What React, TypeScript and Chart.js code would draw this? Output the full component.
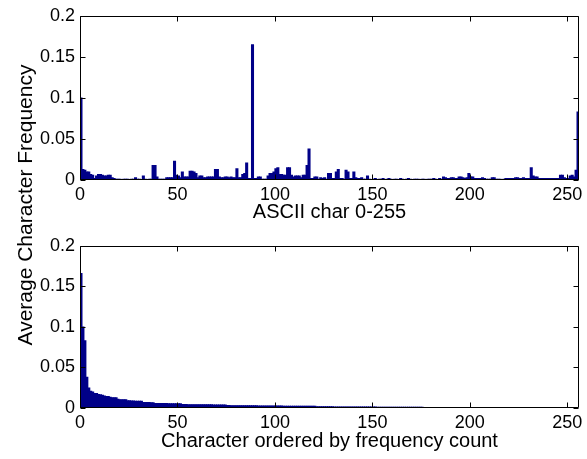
import { useEffect, useRef } from "react";
import { Chart, registerables } from "chart.js";

Chart.register(...registerables);

// ---- data ----
const xTicks = [0, 50, 100, 150, 200, 250];
const yTicks = [0, 0.05, 0.1, 0.15, 0.2];
const xMax = 256;
const topTitle = "ASCII char 0-255";
const bottomTitle = "Character ordered by frequency count";
const yTitle = "Average Character Frequency";

// average frequency of each ASCII char 0..255
const asciiFrequency = [
  0.100, 0.013, 0.012, 0.010, 0.010, 0.007, 0.006, 0.002, 0.005, 0.007, 0.007, 0.006, 0.005, 0.005, 0.006, 0.006,
  0.003, 0.002, 0.001, 0.001, 0.001, 0, 0.001, 0.001, 0.001, 0, 0.001, 0.001, 0.003, 0.001, 0.001, 0,
  0.005, 0.001, 0, 0.001, 0.001, 0.018, 0.018, 0.004, 0.001, 0.001, 0.001, 0.001, 0.003, 0.003, 0.003, 0.003,
  0.023, 0.006, 0.005, 0.003, 0.010, 0.004, 0.004, 0.004, 0.011, 0.011, 0.010, 0.008, 0.003, 0.005, 0.005, 0.003,
  0.003, 0.004, 0.004, 0.004, 0.004, 0.013, 0.013, 0.004, 0.003, 0.003, 0.004, 0.004, 0.003, 0.004, 0.003, 0.003,
  0.014, 0.003, 0.003, 0.007, 0.008, 0.021, 0.002, 0.002, 0.165, 0.002, 0.002, 0.004, 0.004, 0.001, 0.001, 0.001,
  0.005, 0.008, 0.008, 0.010, 0.014, 0.015, 0.007, 0.007, 0.006, 0.006, 0.015, 0.015, 0.006, 0.004, 0.005, 0.005,
  0.005, 0.003, 0.006, 0.006, 0.018, 0.038, 0.002, 0.002, 0.004, 0.004, 0.001, 0.003, 0.002, 0.003, 0.001, 0.008,
  0.008, 0.002, 0.002, 0.010, 0.013, 0.002, 0.002, 0.001, 0.012, 0.010, 0.002, 0.002, 0.010, 0.003, 0.002, 0.002,
  0.003, 0.001, 0.001, 0.005, 0.001, 0, 0.001, 0.002, 0, 0.001, 0.001, 0.002, 0, 0.001, 0.002, 0.001,
  0, 0.001, 0.001, 0, 0.002, 0.001, 0, 0.001, 0.002, 0.001, 0, 0.001, 0.001, 0.001, 0, 0.001,
  0.001, 0, 0.001, 0.001, 0.001, 0.002, 0.001, 0, 0.002, 0.001, 0.004, 0.003, 0.002, 0.002, 0.003, 0.003,
  0.002, 0.002, 0.004, 0.004, 0.003, 0.002, 0.003, 0.008, 0.004, 0.004, 0.002, 0.002, 0.002, 0.002, 0.003, 0.002,
  0.001, 0.001, 0.001, 0.003, 0.003, 0.001, 0.001, 0.001, 0, 0.001, 0.002, 0.002, 0.002, 0.002, 0.002, 0.003,
  0.003, 0.002, 0.002, 0.003, 0.002, 0.002, 0.002, 0.015, 0.005, 0.004, 0.004, 0.002, 0.002, 0.002, 0.002, 0.002,
  0.002, 0.002, 0.002, 0.002, 0.002, 0.002, 0.006, 0.006, 0.003, 0.002, 0.002, 0.005, 0.006, 0.004, 0.012, 0.083,
];

// characters ordered by frequency count (descending)
const sortedFrequency = [
  0.166, 0.100, 0.083, 0.038, 0.025, 0.021, 0.020, 0.018, 0.018, 0.017, 0.0165, 0.016, 0.015, 0.0145, 0.0145, 0.0135,
  0.013, 0.013, 0.013, 0.011, 0.0105, 0.0105, 0.0105, 0.0105, 0.009, 0.009, 0.0088, 0.0088, 0.0086, 0.0086, 0.0085, 0.0085,
  0.007, 0.007, 0.007, 0.007, 0.0068, 0.0068, 0.0058, 0.0058, 0.0058, 0.0058, 0.0057, 0.0057, 0.0057, 0.0056, 0.0056, 0.0056,
  0.0056, 0.0055, 0.0055, 0.0055, 0.0044, 0.0044, 0.0044, 0.0043, 0.0043, 0.0043, 0.0043, 0.0042, 0.0042, 0.0042, 0.0042, 0.0042,
  0.0041, 0.0041, 0.0041, 0.0041, 0.0040, 0.0040, 0.0040, 0.0040, 0.0040, 0.0040, 0.0040, 0.0032, 0.0032, 0.0031, 0.0031, 0.0031,
  0.0030, 0.0030, 0.0030, 0.0030, 0.0030, 0.0029, 0.0029, 0.0029, 0.0029, 0.0029, 0.0029, 0.0028, 0.0028, 0.0028, 0.0028, 0.0028,
  0.0028, 0.0028, 0.0027, 0.0027, 0.0027, 0.0026, 0.0026, 0.0026, 0.0025, 0.0025, 0.0025, 0.0025, 0.0025, 0.0024, 0.0024, 0.0024,
  0.0024, 0.0024, 0.0024, 0.0024, 0.0024, 0.0023, 0.0023, 0.0023, 0.0023, 0.0017, 0.0017, 0.0017, 0.0016, 0.0016, 0.0016, 0.0016,
  0.0016, 0.0016, 0.0015, 0.0015, 0.0015, 0.0015, 0.0015, 0.0015, 0.0015, 0.0014, 0.0014, 0.0014, 0.0014, 0.0014, 0.0014, 0.0014,
  0.0014, 0.0013, 0.0013, 0.0013, 0.0013, 0.0013, 0.0013, 0.0013, 0.0012, 0.0012, 0.0012, 0.0012, 0.0012, 0.0012, 0.0012, 0.0012,
  0.0012, 0.0011, 0.0011, 0.0011, 0.0011, 0.0011, 0.0011, 0.0011, 0.0011, 0.0010, 0.0010, 0.0010, 0.0010, 0.0010, 0.0010, 0.0010,
];

// ---- styling ----
const FONT = "'Liberation Sans', Arial, Helvetica, sans-serif";
const BAR_COLOR = "#000088";

const framePlugin = {
  id: "matlabFrame",
  afterDatasetsDraw(chart: any) {
    const { ctx, chartArea: a, scales } = chart;
    ctx.save();
    ctx.strokeStyle = "#000";
    ctx.lineWidth = 1;
    const L = Math.round(a.left) + 0.5;
    const R = Math.round(a.right) - 0.5;
    const T = Math.round(a.top) + 0.5;
    const B = Math.round(a.bottom) - 0.5;
    ctx.beginPath();
    ctx.rect(L, T, R - L, B - T);
    for (const v of xTicks) {
      const x = Math.round(scales.x.getPixelForValue(v)) + 0.5;
      ctx.moveTo(x, B);
      ctx.lineTo(x, B - 5);
      ctx.moveTo(x, T);
      ctx.lineTo(x, T + 5);
    }
    for (const v of yTicks) {
      const y = Math.round(scales.y.getPixelForValue(v)) + 0.5;
      ctx.moveTo(L, y);
      ctx.lineTo(L + 5, y);
      ctx.moveTo(R, y);
      ctx.lineTo(R - 5, y);
    }
    ctx.stroke();
    ctx.restore();
  },
};

function makeConfig(values: number[], title: string, padTop: number, axisH: number, titlePad: number): any {
  return {
    type: "bar",
    data: {
      datasets: [
        {
          data: values.map((v, k) => ({ x: k + 0.5, y: v })),
          backgroundColor: BAR_COLOR,
          borderWidth: 0,
          barThickness: 2.4,
          clip: 0,
        },
      ],
    },
    options: {
      animation: false,
      responsive: false,
      events: [],
      layout: { padding: { top: padTop, right: 8, left: 0, bottom: 0 } },
      plugins: { legend: { display: false }, tooltip: { enabled: false } },
      scales: {
        x: {
          type: "linear",
          min: 0,
          max: xMax,
          offset: false,
          grid: { display: false, drawTicks: false, offset: false },
          border: { display: false },
          afterBuildTicks: (s: any) => {
            s.ticks = xTicks.map((v) => ({ value: v }));
          },
          afterFit: (s: any) => {
            s.height = axisH;
          },
          ticks: {
            color: "#000",
            padding: 4,
            maxRotation: 0,
            autoSkip: false,
            font: { family: FONT, size: 18 },
            callback: (v: number) => String(v),
          },
          title: {
            display: true,
            text: title,
            color: "#000",
            font: { family: FONT, size: 20 },
            padding: { top: 0, bottom: titlePad },
          },
        },
        y: {
          type: "linear",
          min: 0,
          max: 0.2,
          grid: { display: false, drawTicks: false },
          border: { display: false },
          afterBuildTicks: (s: any) => {
            s.ticks = yTicks.map((v) => ({ value: v }));
          },
          afterFit: (s: any) => {
            s.width = 80;
          },
          ticks: {
            color: "#000",
            padding: 5,
            autoSkip: false,
            font: { family: FONT, size: 18 },
            callback: (v: number) => String(Number(v.toFixed(2))),
          },
        },
      },
    },
    plugins: [framePlugin],
  };
}

export default function App() {
  const topRef = useRef<HTMLCanvasElement>(null);
  const bottomRef = useRef<HTMLCanvasElement>(null);

  useEffect(() => {
    const c1 = new Chart(topRef.current as HTMLCanvasElement, makeConfig(asciiFrequency, topTitle, 14, 50, 6));
    const c2 = new Chart(bottomRef.current as HTMLCanvasElement, makeConfig(sortedFrequency, bottomTitle, 12, 51, 6));
    return () => {
      c1.destroy();
      c2.destroy();
    };
  }, []);

  return (
    <div style={{ position: "absolute", left: 0, top: 0, width: 587, height: 459, background: "#fff", overflow: "hidden" }}>
      <canvas ref={topRef} width={587} height={230} style={{ position: "absolute", left: 0, top: 0, width: 587, height: 230 }} />
      <canvas ref={bottomRef} width={587} height={229} style={{ position: "absolute", left: 0, top: 230, width: 587, height: 229 }} />
      <div
        style={{
          position: "absolute",
          left: 25 - 200,
          top: 205 - 12,
          width: 400,
          height: 24,
          lineHeight: "24px",
          textAlign: "center",
          transform: "rotate(-90deg)",
          font: `21px ${FONT}`,
          color: "#000",
          whiteSpace: "nowrap",
        }}
      >
        {yTitle}
      </div>
    </div>
  );
}
